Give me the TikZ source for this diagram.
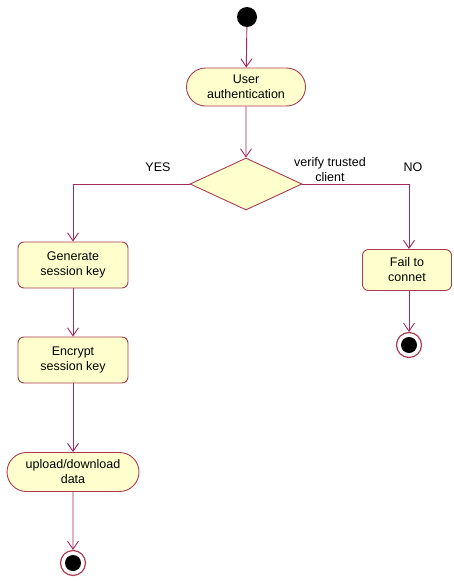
\documentclass[tikz,border=0pt]{standalone}
\usepackage{fontspec}
\setmainfont{Liberation Sans}
\usetikzlibrary{shapes.geometric,shapes.misc,arrows.meta}
\definecolor{lc}{RGB}{165,40,95}
\definecolor{bc}{RGB}{170,60,80}
\definecolor{fc}{RGB}{255,255,206}
\begin{document}
\begin{tikzpicture}[x=1pt,y=-1pt,
  font=\fontsize{12.5}{15}\selectfont,
  act/.style={rounded rectangle, draw=bc, fill=fc, line width=0.9pt, align=center, inner sep=0pt},
  box/.style={rectangle, rounded corners=6pt, draw=bc, fill=fc, line width=0.9pt, align=center, inner sep=0pt},
  dec/.style={diamond, draw=bc, fill=fc, line width=0.9pt, minimum width=112pt, minimum height=52pt, inner sep=0pt},
  conn/.style={draw=lc, line width=0.9pt, -{Straight Barb[length=8pt,width=11pt,line width=0.9pt]}},
  lin/.style={draw=lc, line width=0.9pt},
  startst/.style={circle, fill=black, minimum size=20pt, inner sep=0pt},
  endst/.style={circle, fill=black, draw=white, line width=3pt, minimum size=20pt, inner sep=0pt, double=bc, double distance=1pt}
]
\useasboundingbox (0,0) rectangle (453,581);
\node[startst] (s) at (247,17) {};
\node[act, minimum width=119pt, minimum height=38pt] (ua) at (246,87) {User\\authentication};
\node[dec] (d) at (246,184) {};
\node[box, minimum width=110pt, minimum height=46pt] (gen) at (73,265) {Generate\\session key};
\node[box, minimum width=89pt, minimum height=41pt] (fail) at (407,270) {Fail to\\connet};
\node[box, minimum width=110pt, minimum height=46pt] (enc) at (73,360) {Encrypt\\session key};
\node[act, minimum width=132pt, minimum height=39pt] (up) at (73,472) {upload/download\\data};
\node[circle, draw=bc, line width=1.2pt, fill=white, minimum size=25pt, inner sep=0pt] (e1) at (73,563) {};
\node[circle, fill=black, minimum size=16pt, inner sep=0pt] at (e1) {};
\node[circle, draw=bc, line width=1.2pt, fill=white, minimum size=25pt, inner sep=0pt] (e2) at (409,345) {};
\node[circle, fill=black, minimum size=16pt, inner sep=0pt] at (e2) {};
\node (yes) at (158,167) {YES};
\node (no) at (413,167) {NO};
\node[align=center, inner sep=0pt, font=\fontsize{12.5}{15}\selectfont] (vt) at (330,170) {verify trusted\\client};
\coordinate (cl) at (73,184);
\coordinate (cr) at (409,184);
\draw[conn] (s) -- (ua);
\draw[conn] (ua) -- (d);
\draw[conn] (d.west) -- (cl) -- (gen.north);
\draw[conn] (d.east) -- (cr) -- (fail.north -| cr);
\draw[conn] (gen) -- (enc);
\draw[conn] (enc) -- (up);
\draw[conn] (up) -- (e1);
\draw[conn] (fail.south -| cr) -- (e2);
\end{tikzpicture}
\end{document}
